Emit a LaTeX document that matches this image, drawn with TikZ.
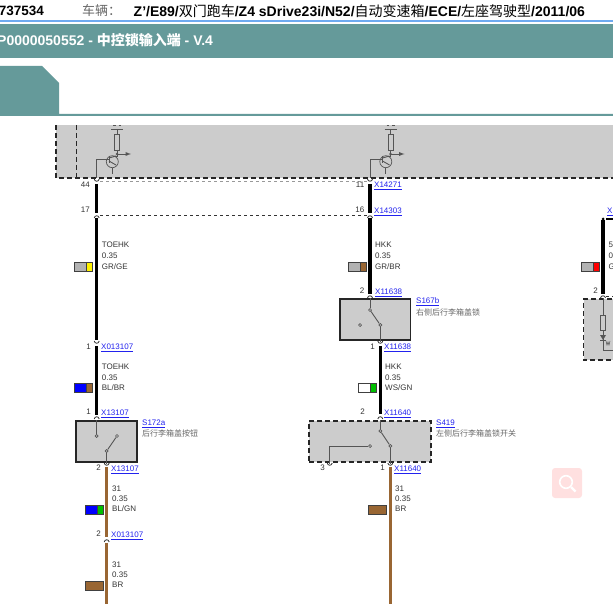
\documentclass[tikz,border=0pt]{standalone}
\usepackage{fontspec}
\setmainfont{Liberation Sans}
\newfontfamily\cjk{Noto Sans CJK SC}
\usetikzlibrary{arrows}
\usetikzlibrary{calc}
\usetikzlibrary{positioning}
\definecolor{teal1}{HTML}{659A9A}
\definecolor{bar1}{HTML}{6FAAF0}
\definecolor{box1}{HTML}{CCCCCC}
\definecolor{line1}{HTML}{555555}
\definecolor{brown1}{HTML}{996633}
\definecolor{link1}{HTML}{2222EE}
\definecolor{text1}{HTML}{333333}
\newcommand{\xlink}[1]{\textcolor{link1}{\underline{#1}}}
\tikzset{
  txt/.style={inner sep=0pt,anchor=west,font=\fontsize{8}{8}\selectfont,text=text1},
  pinno/.style={inner sep=0pt,anchor=east,font=\fontsize{8}{8}\selectfont,text=text1},
  cn/.style={inner sep=0pt,anchor=west,font=\cjk\fontsize{8}{8}\selectfont,text=black!60},
  blackwire/.style={line width=3.2pt,black},
  brownwire/.style={line width=3.2pt,brown1},
  thinw/.style={line width=0.9pt,line1},
  modbox/.style={fill=box1,draw=black!85,line width=1.6pt},
  dashbox/.style={modbox,dash pattern=on 5pt off 3pt},
  swatch/.style={draw=black!75,line width=0.8pt},
  dot/.style={circle,draw=line1,line width=0.7pt,fill=box1,inner sep=0pt,minimum size=3pt},
  pintop/.pic={\draw[line width=0.8pt,black!80] (-2.5,2) .. controls (-2,-1) and (2,-1) .. (2.5,2);},
  pinbot/.pic={\draw[line width=0.8pt,black!80] (-2.5,-2) .. controls (-2,1) and (2,1) .. (2.5,-2);},
  transistor/.pic={
    \draw[thinw] (-4,0) -- (-1.5,0) (1.5,0) -- (4,0);
    \draw[thinw] (-6,4) -- (6,4);
    \draw[thinw] (0,4) -- (0,9);
    \draw[thinw,fill=box1] (-2.5,9) rectangle (2.5,25);
    \draw[thinw] (0,25) -- (0,31) -- (-4,31);
    \fill[line1] (0,29) circle (1.3);
    \draw[thinw,-latex] (0,29) -- (14,29);
    \draw[line width=0.7pt,line1] (-4.7,36.7) circle (6);
    \draw[thinw] (-20.5,53) -- (-20.5,34) -- (-8,34);
    \draw[thinw] (-8,31) -- (-8,38);
    \draw[thinw] (-8,33) -- (-1,31) (-8,36) -- (-1,40);
    \draw[thinw] (-4.7,42.7) -- (-4.7,49);
  }
}

\begin{document}
\begin{tikzpicture}[x=1pt,y=-1pt,>=latex']
\useasboundingbox (0,0) rectangle (613,604);
\clip (0,0) rectangle (613,604);

% header
\node[inner sep=0pt,anchor=east,font=\bfseries\fontsize{13.5}{13.5}\selectfont] (order) at (44,11) {737534};
\node[inner sep=0pt,anchor=west,font=\cjk\fontsize{13}{13}\selectfont,text=black!60] (carlabel) at (82,11) {车辆：};
\node[inner sep=0pt,anchor=west,font=\bfseries\fontsize{14}{14}\selectfont] (car) at (133.5,11)
  {Z'/E89/{\cjk\mdseries 双门跑车}/Z4 sDrive23i/N52/{\cjk\mdseries 自动变速箱}/ECE/{\cjk\mdseries 左座驾驶型}/2011/06};
\fill[bar1] (0,20) rectangle (613,22);
\fill[teal1] (0,24) rectangle (613,58);
\node[inner sep=0pt,anchor=west,text=white,font=\bfseries\fontsize{14}{14}\selectfont] (title) at (-3,40)
  {P0000050552 - {\cjk 中控锁输入端} - V.4};
\fill[teal1] (0,66) -- (42,66) -- (59,83) -- (59,114) -- (613,114) -- (613,116) -- (0,116) -- cycle;

% control unit
\fill[box1] (56,125) rectangle (613,178);
\draw[black!85,line width=1.5pt,dash pattern=on 5pt off 3pt] (56,125) -- (56,178) -- (613,178);
\draw[black!85,line width=1.5pt,dash pattern=on 5pt off 3pt] (76.7,125) -- (76.7,178);
\pic at (117,125) {transistor};
\pic at (390.5,125) {transistor};

% dashed links between the two wires
\draw[black!40,line width=0.8pt,dashed] (100,181) -- (367,181);
\draw[black!80,line width=0.8pt,dashed] (100,215) -- (367,215);

% wires
\draw[blackwire] (96.7,184) coordinate (a1) -- (96.7,213) coordinate (a2);
\draw[blackwire] (96.7,218) coordinate (a3) -- (96.7,340) coordinate (a4);
\draw[blackwire] (96.7,346) coordinate (a5) -- (96.7,415) coordinate (a6);
\draw[brownwire] (106.7,467) coordinate (a7) -- (106.7,537) coordinate (a8);
\draw[brownwire] (106.7,543) coordinate (a9) -- (106.7,604) coordinate (a10);
\draw[blackwire] (370,184) coordinate (b1) -- (370,213) coordinate (b2);
\draw[blackwire] (370,218) coordinate (b3) -- (370,294) coordinate (b4);
\draw[blackwire] (380.3,346) coordinate (b5) -- (380.3,414) coordinate (b6);
\draw[brownwire] (390.3,467) coordinate (b7) -- (390.3,604) coordinate (b8);
\draw[blackwire] (603,220) coordinate (c1) -- (603,294) coordinate (c2);
\draw[black,line width=2.5pt] (606,219) coordinate (c3) -- (613,219) coordinate (c4);
\fill[black] (603,219) circle (1.5);

% pins
\pic at (96.7,181) {pinbot};
\pic at (96.7,216) {pintop};
\pic at (96.7,343) {pinbot};
\pic at (96.7,417) {pintop};
\pic at (106.7,465) {pinbot};
\pic at (106.7,540) {pintop};
\pic at (370,181) {pinbot};
\pic at (370,216) {pintop};
\pic at (370,296) {pintop};
\pic at (380.3,343) {pinbot};
\pic at (380.3,417) {pintop};
\pic at (329.7,465) {pinbot};
\pic at (390.3,465) {pinbot};
\pic at (603,296) {pintop};

% switch S172a
\node[modbox,minimum width=61pt,minimum height=41pt,inner sep=0pt] (s172) at (106.5,441.2) {};
\node[dot] (s1a) at (96.7,436) {};
\node[dot] (s1b) at (117,436) {};
\node[dot] (s1c) at (106.7,451) {};
\coordinate (s1t) at (96.7,420);
\coordinate (s1u) at (106.7,464);
\draw[thinw] (s1t) -- (s1a);
\draw[thinw] (s1b) -- (s1c);
\draw[thinw] (s1c) -- (s1u);

% switch S167b
\node[modbox,minimum width=70.7pt,minimum height=41pt,inner sep=0pt] (s167) at (375.3,319.5) {};
\node[dot] (s2a) at (370,310) {};
\node[dot] (s2b) at (380.3,325) {};
\node[dot] (s2c) at (360,325) {};
\coordinate (s2t) at (370,298);
\coordinate (s2u) at (380.3,342);
\draw[thinw] (s2t) -- (s2a);
\draw[thinw] (s2a) -- (s2b);
\draw[thinw] (s2b) -- (s2u);

% switch S419
\node[dashbox,minimum width=122pt,minimum height=41pt,inner sep=0pt] (s419) at (370,441.2) {};
\node[dot] (s3a) at (380.3,431) {};
\node[dot] (s3b) at (390.3,446) {};
\node[dot] (s3c) at (370,446) {};
\coordinate (s3t) at (380.3,420);
\coordinate (s3u) at (390.3,464);
\coordinate (s3v) at (329.7,464);
\draw[thinw] (s3t) -- (s3a);
\draw[thinw] (s3a) -- (s3b);
\draw[thinw] (s3b) -- (s3u);
\draw[thinw] (s3c) -| (s3v);

% cut off module on the right
\fill[box1] (583.5,299) rectangle (620,360);
\draw[black!85,line width=1.5pt,dash pattern=on 5pt off 3pt] (620,299) -- (583.5,299) -- (583.5,360) -- (620,360);
\draw[black!80,line width=0.8pt,dashed] (606,296) -- (613,296);
\draw[thinw] (603,298) -- (603,315);
\draw[thinw,fill=box1] (600.7,315) rectangle (605.3,330);
\draw[thinw] (603,330) -- (603,350) -- (613,350);
\fill[line1] (600,335) -- (606,335) -- (603,340) -- cycle;
\draw[thinw] (600,340) -- (606,340);
\draw[line width=0.5pt,line1] (606,341) -- (607,345) -- (608,342) -- (609,345) -- (610,341);

% wire labels
\foreach \name/\x/\y/\t in {
  wa1/101.7/245/TOEHK,wa2/101.7/256/0.35,wa3/101.7/266.5/GR\slash GE,
  wb1/375/245/HKK,wb2/375/256/0.35,wb3/375/266.5/GR\slash BR,
  wc1/101.7/367/TOEHK,wc2/101.7/377.5/0.35,wc3/101.7/387.5/BL\slash BR,
  wd1/385/367/HKK,wd2/385/377.5/0.35,wd3/385/387.5/WS\slash GN,
  we1/112/489/31,we2/112/499/0.35,we3/112/509/BL\slash GN,
  wf1/112/565/31,wf2/112/575/0.35,wf3/112/585/BR,
  wg1/395/489/31,wg2/395/499/0.35,wg3/395/509/BR,
  wh1/608.5/245/5,wh2/608.5/256/0,wh3/608.5/266.5/G}
  \node[txt] (\name) at (\x,\y) {\t};

% colour swatches
\foreach \x/\y/\ca/\cb in {
  74/262/black!30/yellow,
  348/262/black!30/brown1,
  581/262/black!30/red,
  74/383.5/blue/brown1,
  358/383.5/white/green!75!black,
  85/505/blue/green!75!black}
{
  \fill[\ca] (\x,\y) rectangle ++(12,9);
  \fill[\cb] (\x+12,\y) rectangle ++(6,9);
  \draw[swatch] (\x,\y) rectangle ++(18,9);
  \draw[swatch] (\x+12,\y) -- ++(0,9);
}
\draw[swatch,fill=brown1] (85,581) rectangle (103,590);
\draw[swatch,fill=brown1] (368,505) rectangle (386,514);

% pin numbers
\foreach \name/\x/\y/\t in {
  p1/90/185/44,p2/90/210/17,p3/91/347/1,p4/91/412/1,p5/101/468/2,p6/101/534/2,
  p7/364.5/185/11,p8/364.5/210/16,p9/364.5/291/2,p10/375/347/1,p11/365/412/2,
  p12/325/468/3,p13/385/468/1,p14/598/291/2}
  \node[pinno] (\name) at (\x,\y) {\t};

% connector names
\foreach \name/\x/\y/\t in {
  x1/374/184.5/X14271,x2/374/210.5/X14303,x3/375/291/X11638,
  x4/101/346/X013107,x5/101/412/X13107,x6/111/468/X13107,x7/111/534/X013107,
  x8/384/346/X11638,x9/384/412/X11640,x10/394/468/X11640,x11/607/210.5/X,
  m1/142/422/S172a,m2/416/300/S167b,m3/436/422/S419}
  \node[txt,yshift=-1.5pt] (\name) at (\x,\y) {\xlink{\t}};

\node[cn] (n1) at (142,433) {后行李箱盖按钮};
\node[cn] (n2) at (416,312) {右侧后行李箱盖锁};
\node[cn] (n3) at (436,433) {左侧后行李箱盖锁开关};

% search button
\fill[red!12,rounded corners=3pt] (552,468) rectangle (582,498);
\draw[white,line width=1.6pt] (566,482) circle (6.3);
\draw[white,line width=2.2pt] (571,487) -- (575.5,491.5);
\end{tikzpicture}
\end{document}
